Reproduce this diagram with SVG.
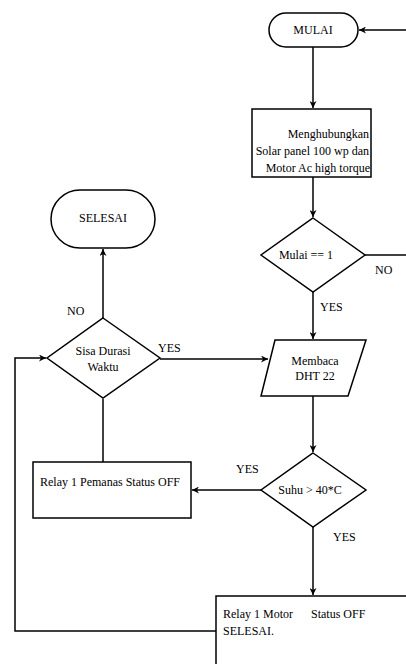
<svg xmlns="http://www.w3.org/2000/svg" width="406" height="664" viewBox="0 0 406 664">
<style>
.s{fill:#fff;stroke:#000;stroke-width:1.5}
.c{fill:none;stroke:#000;stroke-width:1.5}
text{font-family:'Liberation Serif','Times New Roman',serif;font-size:12px;fill:#000}
.m{text-anchor:middle}
.e{text-anchor:end}
</style>
<defs>
<marker id="a" viewBox="0 0 10 10" refX="10" refY="5" markerWidth="7" markerHeight="7" orient="auto" markerUnits="userSpaceOnUse">
<path d="M0,0 L10,5 L0,10 L3,5 Z" fill="#000"/>
</marker>
</defs>
<rect width="406" height="664" fill="#fff"/>
<g id="connectors">
<path class="c" d="M406,30 H359" marker-end="url(#a)"/>
<path class="c" d="M313,47 V108" marker-end="url(#a)"/>
<path class="c" d="M313,177 V217" marker-end="url(#a)"/>
<path class="c" d="M365,255 H406"/>
<path class="c" d="M313,292 V339" marker-end="url(#a)"/>
<path class="c" d="M160,359 H268" marker-end="url(#a)"/>
<path class="c" d="M313,396 V452" marker-end="url(#a)"/>
<path class="c" d="M261,490 H192" marker-end="url(#a)"/>
<path class="c" d="M313,527 V595" marker-end="url(#a)"/>
<path class="c" d="M103,462 V399"/>
<path class="c" d="M103,318 V249" marker-end="url(#a)"/>
<path class="c" d="M216,631 H15 V358 H46" marker-end="url(#a)"/>
<text x="375" y="274">NO</text>
<text x="320" y="311">YES</text>
<text x="158" y="352">YES</text>
<text x="67" y="315">NO</text>
<text x="236" y="473">YES</text>
<text x="333" y="541">YES</text>
</g>
<g id="mulai">
<rect class="s" x="269" y="13" width="89" height="34" rx="17"/>
<text class="m" x="313" y="34">MULAI</text>
</g>
<g id="menghubungkan">
<rect class="s" x="252" y="109" width="119" height="68"/>
<text class="e" x="369" y="138">Menghubungkan</text>
<text class="e" x="369" y="155">Solar panel 100 wp dan</text>
<text class="e" x="370" y="172">Motor Ac high torque</text>
</g>
<g id="cek-mulai">
<polygon class="s" points="313,218 365,255 313,292 261,255"/>
<text class="m" x="306" y="259">Mulai == 1</text>
</g>
<g id="membaca">
<polygon class="s" points="275,340 366,340 348,396 261,396"/>
<text class="m" x="315" y="365">Membaca</text>
<text class="m" x="315" y="380">DHT 22</text>
</g>
<g id="selesai">
<rect class="s" x="51" y="190" width="104" height="58" rx="29"/>
<text class="m" x="103" y="222">SELESAI</text>
</g>
<g id="sisa-durasi">
<polygon class="s" points="103,318 160,358 103,398 47,358"/>
<text class="m" x="103" y="355">Sisa Durasi</text>
<text class="m" x="103" y="371">Waktu</text>
</g>
<g id="relay-pemanas">
<rect class="s" x="33" y="462" width="158" height="56"/>
<text x="40" y="486">Relay 1 Pemanas Status OFF</text>
</g>
<g id="suhu">
<polygon class="s" points="313,453 366,490 313,527 261,490"/>
<text class="m" x="310" y="494">Suhu &gt; 40*C</text>
</g>
<g id="relay-motor">
<rect class="s" x="216" y="596" width="200" height="80"/>
<text x="223" y="618" xml:space="preserve">Relay 1 Motor      Status OFF</text>
<text x="223" y="635">SELESAI.</text>
</g>
</svg>
